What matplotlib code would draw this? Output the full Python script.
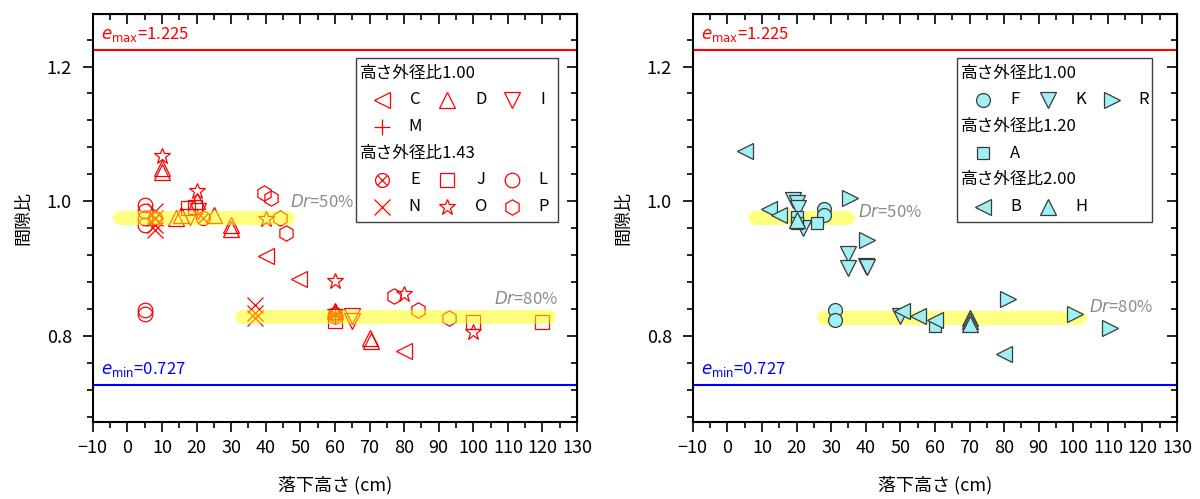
import matplotlib
matplotlib.use('Agg')
import matplotlib.pyplot as plt
from matplotlib.patches import Rectangle
from matplotlib.ticker import MultipleLocator, FormatStrFormatter

plt.rcParams['font.family'] = ['Noto Sans CJK JP', 'DejaVu Sans']
plt.rcParams['mathtext.fontset'] = 'dejavusans'
plt.rcParams['font.size'] = 12

# ---- left panel data (height/diameter 1.00 and 1.43) ----
c_x = [40, 49.5, 80]
c_y = [0.918, 0.884, 0.777]
d_x = [10, 10, 14, 15.5, 20, 25, 30, 30, 60, 70, 70.5]
d_y = [1.05, 1.043, 0.975, 0.98, 1.0, 0.98, 0.965, 0.958, 0.837, 0.797, 0.792]
i_x = [18, 20.5, 65, 65]
i_y = [0.977, 0.985, 0.829, 0.822]
m_x = [60]
m_y = [0.83]
e_x = [8, 22, 60]
e_y = [0.975, 0.975, 0.832]
j_x = [17.5, 19.5, 60, 100, 120]
j_y = [0.99, 0.992, 0.822, 0.82, 0.82]
l_x = [5, 5, 5, 5, 5, 5, 60]
l_y = [0.994, 0.985, 0.975, 0.965, 0.838, 0.832, 0.829]
n_x = [8, 8, 8, 8, 37, 37, 37]
n_y = [0.985, 0.975, 0.965, 0.957, 0.846, 0.834, 0.827]
o_x = [10, 20, 40, 60, 80, 100, 60]
o_y = [1.067, 1.015, 0.973, 0.881, 0.862, 0.805, 0.835]
p_x = [39.5, 41.5, 44, 46, 77, 84, 93]
p_y = [1.012, 1.005, 0.975, 0.953, 0.859, 0.839, 0.827]

# ---- right panel data (1.00, 1.20, 2.00) ----
f_x = [28, 28, 31, 31]
f_y = [0.988, 0.98, 0.839, 0.824]
k_x = [19, 20, 20.5, 22, 35, 35, 40, 40.5, 50]
k_y = [1.002, 0.998, 0.99, 0.96, 0.921, 0.901, 0.904, 0.902, 0.829]
r_x = [35.5, 40.5, 81, 100.5, 110.5]
r_y = [1.005, 0.943, 0.854, 0.832, 0.812]
a_x = [20, 20, 26, 60]
a_y = [0.976, 0.968, 0.968, 0.815]
b_x = [5, 12, 15, 50.5, 55, 60, 80]
b_y = [1.074, 0.988, 0.979, 0.837, 0.829, 0.824, 0.773]
h_x = [20, 70, 70, 70]
h_y = [0.972, 0.826, 0.822, 0.817]

e_max = 1.225
e_min = 0.727

# relative density bands: (x start, x end, void ratio)
left_bands = [(-2, 46.5, 0.975), (33, 122, 0.8275)]
right_bands = [(8, 35, 0.975), (28, 102, 0.827)]
left_dr_labels = [('50%', 47, 0.998, 'left'), ('80%', 124.6, 0.854, 'right')]
right_dr_labels = [('50%', 37.8, 0.983, 'left'), ('80%', 123, 0.842, 'right')]

RED = '#FF0000'
CYAN = '#9EF0F4'


def red(marker, ms):
    return dict(marker=marker, ms=ms, mfc='none', mec=RED, mew=0.9, ls='none')


def cyan(marker, ms):
    return dict(marker=marker, ms=ms, mfc=CYAN, mec='#3A3A3A', mew=0.9, ls='none')


left_series = [
    ('C', c_x, c_y, [red('<', 12)]),
    ('D', d_x, d_y, [red('^', 12)]),
    ('I', i_x, i_y, [red('v', 12)]),
    ('M', m_x, m_y, [red('+', 11)]),
    ('E', e_x, e_y, [red('o', 10), red('x', 7)]),
    ('J', j_x, j_y, [red('s', 10)]),
    ('L', l_x, l_y, [red('o', 10.5)]),
    ('N', n_x, n_y, [red('x', 11)]),
    ('O', o_x, o_y, [red('*', 12)]),
    ('P', p_x, p_y, [red('h', 11)]),
]
left_groups = [('高さ外径比1.00', ['C', 'D', 'I', 'M']),
               ('高さ外径比1.43', ['E', 'J', 'L', 'N', 'O', 'P'])]

right_series = [
    ('F', f_x, f_y, [cyan('o', 10)]),
    ('K', k_x, k_y, [cyan('v', 12)]),
    ('R', r_x, r_y, [cyan('>', 12)]),
    ('A', a_x, a_y, [cyan('s', 9)]),
    ('B', b_x, b_y, [cyan('<', 12)]),
    ('H', h_x, h_y, [cyan('^', 12)]),
]
right_groups = [('高さ外径比1.00', ['F', 'K', 'R']),
                ('高さ外径比1.20', ['A']),
                ('高さ外径比2.00', ['B', 'H'])]


def setup_axes(ax):
    ax.set_xlim(-10, 130)
    ax.set_ylim(0.672, 1.278)
    ax.set_xticks(range(-10, 131, 10))
    ax.set_yticks([0.8, 1.0, 1.2])
    ax.yaxis.set_major_formatter(FormatStrFormatter('%.1f'))
    ax.xaxis.set_minor_locator(MultipleLocator(5))
    ax.yaxis.set_minor_locator(MultipleLocator(0.04))
    ax.tick_params(which='major', direction='out', length=7, width=1.2, labelsize=13)
    ax.tick_params(which='minor', direction='out', length=4, width=1.2)
    ax.tick_params(axis='x', which='major', pad=5)
    ax.tick_params(axis='y', which='major', pad=8)
    for s in ax.spines.values():
        s.set_linewidth(1.5)
    top = ax.secondary_xaxis('top')
    top.set_xticks(range(-10, 131, 10))
    top.xaxis.set_minor_locator(MultipleLocator(5))
    top.tick_params(which='major', direction='in', length=7, width=1.2, labeltop=False)
    top.tick_params(which='minor', direction='in', length=4, width=1.2)
    right = ax.secondary_yaxis('right')
    right.set_yticks([0.8, 1.0, 1.2])
    right.yaxis.set_minor_locator(MultipleLocator(0.04))
    right.tick_params(which='major', direction='in', length=7, width=1.2, labelright=False)
    right.tick_params(which='minor', direction='in', length=4, width=1.2)
    ax.set_xlabel('落下高さ (cm)', fontsize=13, labelpad=14)
    ax.set_ylabel('間隙比', fontsize=13, labelpad=10)

    ax.axhline(e_max, color='red', lw=1.5, zorder=2)
    ax.axhline(e_min, color='blue', lw=1.5, zorder=2)
    ax.text(-7.6, e_max + 0.022, r'$e_{\rm max}$=1.225', color='red', va='center', fontsize=12)
    ax.text(-7.6, e_min + 0.023, r'$e_{\rm min}$=0.727', color='blue', va='center', fontsize=12)


def draw_bands(ax, bands, labels, on_top):
    for x0, x1, y in bands:
        if on_top:
            ax.plot([x0, x1], [y, y], color='yellow', alpha=0.5, lw=10,
                    solid_capstyle='round', zorder=4)
        else:
            ax.plot([x0, x1], [y, y], color='#FFFF80', lw=10,
                    solid_capstyle='round', zorder=1)
    for pct, x, y, ha in labels:
        ax.text(x, y, r'$Dr$=' + pct, color='#8C8C8C', ha=ha, va='center', fontsize=12)


def draw_key(ax, series, groups, box):
    styles = {name: st for name, _, _, st in series}
    x0, x1, y0, y1 = box
    ax.add_patch(Rectangle((x0, y0), x1 - x0, y1 - y0, transform=ax.transAxes,
                           fc='white', ec='#404040', lw=1, zorder=6))
    dy = 0.0654
    y = y1 - 0.037
    mark_off = [0.054, 0.188, 0.321]
    lab_off = [0.121, 0.257, 0.386]
    for header, names in groups:
        ax.text(x0 + 0.008, y, header, transform=ax.transAxes, va='center',
                ha='left', fontsize=12, zorder=7)
        for i, name in enumerate(names):
            if i % 3 == 0:
                y -= dy
            col = i % 3
            for st in styles[name]:
                ax.plot([x0 + mark_off[col]], [y], transform=ax.transAxes,
                        clip_on=False, zorder=7, **st)
            ax.text(x0 + lab_off[col], y, name, transform=ax.transAxes,
                    va='center', ha='center', fontsize=12, zorder=7)
        y -= dy


fig = plt.figure(figsize=(12, 4.99), dpi=100)
ax1 = fig.add_axes([0.0773, 0.1543, 0.4036, 0.8176])
ax2 = fig.add_axes([0.5773, 0.1543, 0.4036, 0.8176])

for ax in (ax1, ax2):
    setup_axes(ax)

for name, xs, ys, sts in left_series:
    for st in sts:
        ax1.plot(xs, ys, zorder=3, **st)
draw_bands(ax1, left_bands, left_dr_labels, on_top=True)
draw_key(ax1, left_series, left_groups, (0.544, 0.961, 0.490, 0.892))

draw_bands(ax2, right_bands, right_dr_labels, on_top=False)
for name, xs, ys, sts in right_series:
    for st in sts:
        ax2.plot(xs, ys, zorder=3, **st)
draw_key(ax2, right_series, right_groups, (0.545, 0.948, 0.490, 0.892))

fig.savefig('out.png', dpi=100)
